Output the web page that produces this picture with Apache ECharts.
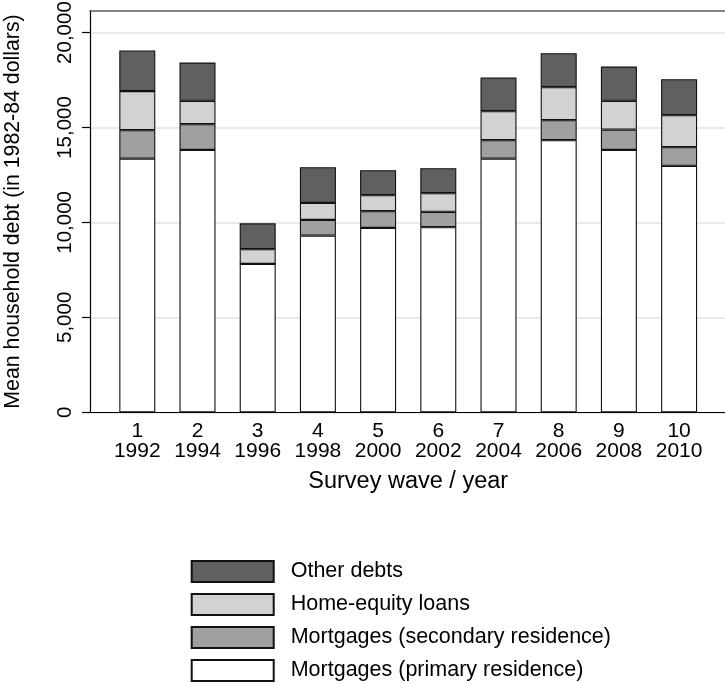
<!DOCTYPE html>
<html>
<head>
<meta charset="utf-8">
<script src="https://cdn.jsdelivr.net/npm/echarts@6/dist/echarts.min.js"></script>
<style>
html,body{margin:0;padding:0;background:#fff;}
#chart{width:725px;height:683px;}
</style>
</head>
<body>
<div id="chart"></div>
<script>
// ---- data ----
const waves = ['1','2','3','4','5','6','7','8','9','10'];
const years = ['1992','1994','1996','1998','2000','2002','2004','2006','2008','2010'];
const primary   = [13360, 13820, 7815, 9305, 9710, 9750, 13360, 14330, 13820, 12980];
const secondary = [1500, 1355, 0, 827, 880, 806, 970, 1055, 1070, 985];
const homeEquity= [2055, 1230, 775, 896, 843, 985, 1528, 1740, 1515, 1685];
const otherDebt = [2140, 2015, 1360, 1881, 1317, 1317, 1770, 1790, 1805, 1895];
const yTicks = [0, 5000, 10000, 15000, 20000];
const seriesNames = ['Mortgages (primary residence)', 'Mortgages (secondary residence)', 'Home-equity loans', 'Other debts'];

const categories = waves.map((w, i) => w + '\n' + years[i]);
const FONT = '"Liberation Sans", Arial, Helvetica, sans-serif';
const YMAX = 21150;

const chart = echarts.init(document.getElementById('chart'), null, {renderer: 'canvas'});
const colors = ['#ffffff', '#a0a0a0', '#d1d3d1', '#606060'];
const values = [primary, secondary, homeEquity, otherDebt];

const option = {
  animation: false,
  backgroundColor: '#ffffff',
  textStyle: {fontFamily: FONT},
  grid: [
    {left: 90, top: 10.7, right: -5, bottom: 270.7, outerBoundsMode: 'none', containLabel: false},
    {left: 107.2, top: 10.7, right: 15.8, bottom: 270.7, outerBoundsMode: 'none', containLabel: false}
  ],
  xAxis: [
    {type: 'value', gridIndex: 0, min: 0, max: 1, position: 'bottom',
      axisLine: {show: true, lineStyle: {color: '#000', width: 1.2}},
      axisTick: {show: false}, axisLabel: {show: false}, splitLine: {show: false}},
    {type: 'value', gridIndex: 0, min: 0, max: 1, position: 'top',
      axisLine: {show: true, lineStyle: {color: '#5c5c5c', width: 1.6}},
      axisTick: {show: false}, axisLabel: {show: false}, splitLine: {show: false}},
    {type: 'category', gridIndex: 1, data: categories,
      axisLine: {show: false}, axisTick: {show: false},
      axisLabel: {fontSize: 21, lineHeight: 20, color: '#000', fontFamily: FONT, margin: 9, interval: 0},
      name: 'Survey wave / year', nameLocation: 'middle', nameGap: 57,
      nameTextStyle: {fontSize: 23.5, color: '#000', fontFamily: FONT}}
  ],
  yAxis: [
    {type: 'value', gridIndex: 0, min: 0, max: YMAX, interval: 5000,
      axisLine: {show: true, lineStyle: {color: '#000', width: 1.2}},
      axisTick: {show: true, length: 8, customValues: yTicks, lineStyle: {color: '#000', width: 1.2}},
      axisLabel: {rotate: 90, fontSize: 20.5, color: '#000', fontFamily: FONT, margin: 14, customValues: yTicks,
        formatter: v => v.toLocaleString('en-US')},
      splitLine: {show: true, lineStyle: {color: '#e2e2e2', width: 1.6}},
      name: 'Mean household debt (in 1982-84 dollars)', nameLocation: 'middle', nameGap: 66,
      nameTextStyle: {fontSize: 21.3, color: '#000', fontFamily: FONT}},
    {type: 'value', gridIndex: 1, min: 0, max: YMAX, show: false, splitLine: {show: false}}
  ],
  legend: {
    orient: 'vertical', left: 190.7, top: 560, padding: 0, height: 140, width: 500,
    itemWidth: 82, itemHeight: 21, itemGap: 10, icon: 'rect',
    data: ['Other debts', 'Home-equity loans', 'Mortgages (secondary residence)', 'Mortgages (primary residence)'],
    textStyle: {fontSize: 21.5, lineHeight: 21, color: '#000', fontFamily: FONT, padding: [0, 0, 0, 12]},
    selectedMode: false
  },
  series: seriesNames.map((n, i) => ({
    name: n, type: 'bar', stack: 'debt', xAxisIndex: 2, yAxisIndex: 1,
    barWidth: 36,
    data: values[i],
    itemStyle: {color: colors[i], borderColor: '#111', borderWidth: 1.1},
    emphasis: {disabled: true}
  }))
};
chart.setOption(option);
</script>
</body>
</html>
